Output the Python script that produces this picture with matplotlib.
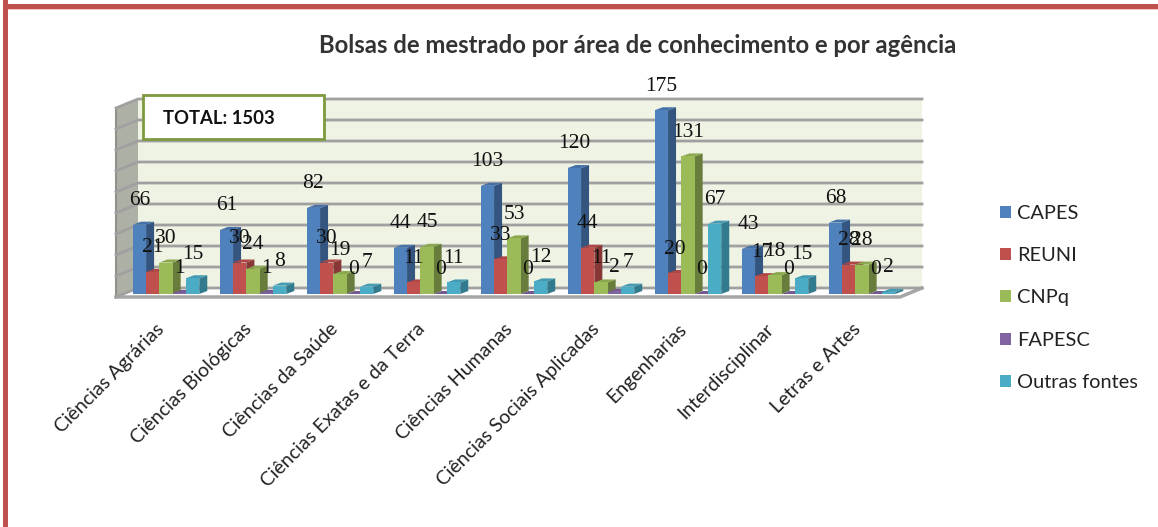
import matplotlib
matplotlib.use("Agg")
import matplotlib.pyplot as plt
from matplotlib.patches import Polygon, Rectangle
from matplotlib.transforms import ScaledTranslation

W, H = 1158, 527

categories = ["Ciências Agrárias", "Ciências Biológicas", "Ciências da Saúde",
              "Ciências Exatas e da Terra", "Ciências Humanas",
              "Ciências Sociais Aplicadas", "Engenharias", "Interdisciplinar",
              "Letras e Artes"]
capes = [66, 61, 82, 44, 103, 120, 175, 43, 68]
reuni = [21, 30, 30, 11, 33, 44, 20, 17, 28]
cnpq = [30, 24, 19, 45, 53, 11, 131, 18, 28]
fapesc = [1, 1, 0, 0, 0, 2, 0, 0, 0]
outras = [15, 8, 7, 11, 12, 7, 67, 15, 2]

series = [("CAPES", capes), ("REUNI", reuni), ("CNPq", cnpq),
          ("FAPESC", fapesc), ("Outras fontes", outras)]
front_cols = ["#4f81bd", "#c0504d", "#9bbb59", "#8064a2", "#4bacc6"]
side_cols = ["#34557f", "#873735", "#687d3c", "#55436c", "#327a8d"]
top_cols = ["#4471a8", "#ad4644", "#8ba84f", "#735a92", "#439ab2"]
grid_values = list(range(0, 181, 20))

# one x unit = 87 px, one y unit = 1.05 px
PX = 1 / 87
PY = 1 / 1.05

fig = plt.figure(figsize=(W / 100, H / 100), dpi=100)
ax = fig.add_axes([116 / W, (H - 294) / H, 784 / W, 189 / H])
ax.set_xlim(-0.567, 8.445)
ax.set_ylim(0, 180)
for s in ax.spines.values():
    s.set_visible(False)
ax.set_yticks([])
ax.patch.set_visible(False)


def poly(pts, color, z, **kw):
    ax.add_patch(Polygon(pts, closed=True, facecolor=color, edgecolor="none",
                         zorder=z, clip_on=False, **kw))


# walls, in px offsets from the bar baseline (y=0 is px 294)
xl, xr = -0.567, 8.445
back_dx, back_dy = 22 * PX, 6 * PY
front_dy = -3 * PY
poly([(xl + back_dx, back_dy), (xr + back_dx, back_dy),
      (xr + back_dx, 180 + back_dy), (xl + back_dx, 180 + back_dy)], "#eff3e4", 1)
poly([(xl, front_dy), (xl + back_dx, back_dy), (xl + back_dx, 180 + back_dy),
      (xl, 180 + front_dy)], "#adb0a5", 1)
poly([(xl, front_dy), (xr, front_dy), (xr + back_dx, back_dy),
      (xl + back_dx, back_dy)], "white", 1.5)
ax.plot([xl, xl], [front_dy, 180 + front_dy], color="#8f918a", lw=1.5, zorder=2, clip_on=False)
ax.plot([xl, xr, xr + back_dx], [front_dy, front_dy, back_dy], color="#a6a6a6", lw=2.5,
        zorder=2, clip_on=False)
for g in grid_values:
    ax.plot([xl, xl + back_dx, xr + back_dx],
            [g + front_dy, g + back_dy, g + back_dy],
            color="#a0a0a0", lw=2, zorder=2, clip_on=False, solid_joinstyle="miter")

# bars, painted left to right so each one covers the side of the previous
bw = 13.3 * PX
ddx, ddy = 8 * PX, 3 * PY
for k, (name, vals) in enumerate(series):
    xs = [i + (k - 2.5) * bw + 0.7 * PX for i in range(len(vals))]
    z = 3 + k
    ax.bar(xs, vals, width=bw, align="edge", color=front_cols[k], label=name, zorder=z + 0.2)
    for x0, v in zip(xs, vals):
        x1 = x0 + bw
        poly([(x1, 0), (x1 + ddx, ddy), (x1 + ddx, v + ddy), (x1, v)], side_cols[k], z)
        poly([(x0, v), (x1, v), (x1 + ddx, v + ddy), (x0 + ddx, v + ddy)], top_cols[k], z)
        ax.text(x0 + bw / 2, v + 24 * PY, str(v), ha="center", va="center",
                fontsize=15.5, family="Liberation Serif", color="#111111", zorder=20,
                clip_on=False)

ax.set_xticks(range(len(categories)))
ax.set_xticklabels(categories, rotation=45, ha="right", rotation_mode="anchor",
                   fontsize=14, family="Lato", color="#222222")
ax.tick_params(axis="x", length=0, pad=19)
shift = ScaledTranslation(-7 / 72, 0, fig.dpi_scale_trans)
for lab in ax.get_xticklabels():
    lab.set_transform(lab.get_transform() + shift)

fig.text(638 / W, 1 - 45 / H, "Bolsas de mestrado por área de conhecimento e por agência",
         ha="center", va="center", fontsize=17.2, fontweight="bold", family="Lato", color="#333333")

# TOTAL box
fig.add_artist(Rectangle((142.5 / W, 1 - 139 / H), 181 / W, 44 / H, transform=fig.transFigure,
                         facecolor="white", edgecolor="#7f9a3e", lw=2, zorder=30))
fig.text(163 / W, 1 - 118 / H, "TOTAL: 1503", ha="left", va="center", fontsize=13.3,
         fontweight="bold", family="Lato", color="#111111", zorder=31)

# legend
leg = fig.legend(loc="center left", bbox_to_anchor=(982 / W, 1 - 298 / H), frameon=False,
                 prop={"family": "Lato", "size": 14.4}, labelspacing=1.27,
                 handlelength=0.55, handleheight=0.55, handletextpad=0.3, labelcolor="#222222")

# page border
fig.add_artist(Rectangle((3 / W, -0.1), 5 / W, 1.2, transform=fig.transFigure,
                         facecolor="#c0504d", edgecolor="none"))
fig.add_artist(Rectangle((8 / W, 1 - 10 / H), 1.1, 1 / H, transform=fig.transFigure,
                         facecolor="#f2c4c2", edgecolor="none"))
fig.add_artist(Rectangle((3 / W, 1 - 9 / H), 1.1, 5 / H, transform=fig.transFigure,
                         facecolor="#c0504d", edgecolor="none"))

fig.savefig("out.png", dpi=100)
